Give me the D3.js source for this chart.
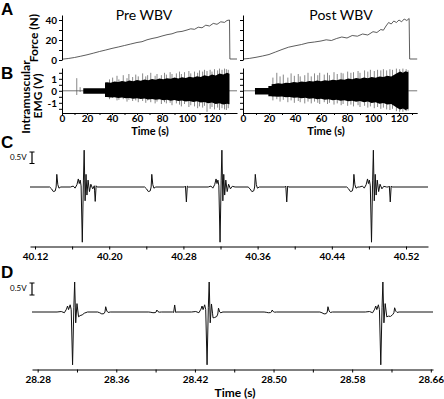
<!DOCTYPE html>
<html>
<head>
<meta charset="utf-8">
<script src="https://cdn.jsdelivr.net/npm/d3@7"></script>
<style>
  body { margin: 0; background: #fff; }
  svg { display: block; }
  .tick text { font-family: Lato, sans-serif; font-weight: bold; fill: #000; }
  .ab .tick text { font-size: 10px; }
  .cd .tick text { font-size: 10px; }
  .domain, .tick line { stroke: #000; stroke-width: 1; }
</style>
</head>
<body>
<script>
// ---- data ----
// A: force ramps (s, N)
var forcePreT = [0,5,10,15,20,25,30,35,40,45,50,55,60,64,68,72,76,80,84,88,92,96,100,103,106,109,112,115,118,121,124,127,130,132,134,134.3,140];
var forcePreN = [0.8,1.5,2.5,3.8,5.2,6.8,8.5,10,11.6,13,14.5,16,17.5,18.3,20.2,21.5,22.5,24,25.3,26.2,28,28.6,30,31.2,30.7,32.8,32.2,34.8,34,36.6,35.7,38.2,37.6,39.5,40,1,1];
var forcePostT = [0,5,10,15,20,25,30,35,40,45,50,55,60,64,68,72,76,80,84,88,92,96,100,103,106,108,110,112,114,116,118,120,122,124,126,127.8,128.2,134];
var forcePostN = [1,1.6,2.7,4,5.5,8,10.5,12.8,14.2,15.5,17.2,18,19,20.2,19.5,21.5,23,22,24.5,23.8,26,25,28.3,27.5,30.5,29.8,34,37.5,36,39,37.5,40,38.2,41,39.5,41.5,1,1];

// B: EMG dense core envelope (s, V)
var emgPreT   = [0,17,17.01,34.4,34.41,36,39,42,45,48,51,54,57,60,63,66,69,72,75,78,81,84,87,90,93,96,99,102,105,108,111,114,117,120,123,126,129,132,134,134.01,140];
var emgPreTop = [0,0,0.22,0.22,0.7,0.72,0.68,0.78,0.74,0.82,0.76,0.86,0.8,0.9,0.84,0.95,0.88,0.98,0.92,1.02,0.96,1.05,1.0,1.1,1.03,1.12,1.06,1.18,1.1,1.22,1.15,1.3,1.22,1.36,1.28,1.45,1.35,1.5,1.42,0,0];
var emgPreBot = [0,0,-0.25,-0.25,-0.52,-0.52,-0.56,-0.53,-0.6,-0.56,-0.63,-0.59,-0.66,-0.62,-0.69,-0.65,-0.72,-0.68,-0.75,-0.7,-0.78,-0.74,-0.82,-0.77,-0.86,-0.8,-0.9,-0.84,-0.94,-0.88,-0.98,-0.93,-1.04,-0.98,-1.1,-1.03,-1.15,-1.08,-1.12,0,0];
var emgPostT   = [0,9.2,9.21,19.5,19.51,22,22.01,24,27,30,33,36,39,42,45,48,51,54,57,60,63,66,69,72,75,78,81,84,87,90,93,96,99,102,105,108,111,114,117,119,121,123,125,127.2,127.21,134];
var emgPostTop = [0,0,0.23,0.23,0.4,0.4,0.55,0.56,0.62,0.58,0.68,0.64,0.74,0.7,0.78,0.74,0.82,0.77,0.86,0.8,0.88,0.84,0.93,0.88,0.97,0.92,1.02,0.96,1.06,1.0,1.1,1.04,1.15,1.08,1.2,1.14,1.26,1.2,1.38,1.5,1.6,1.5,1.62,1.55,0,0];
var emgPostBot = [0,0,-0.3,-0.3,-0.45,-0.45,-0.47,-0.47,-0.5,-0.48,-0.54,-0.51,-0.58,-0.55,-0.62,-0.58,-0.66,-0.62,-0.7,-0.66,-0.75,-0.7,-0.79,-0.74,-0.83,-0.78,-0.87,-0.82,-0.92,-0.86,-0.96,-0.9,-1.02,-0.95,-1.08,-1.02,-1.15,-1.1,-1.3,-1.45,-1.55,-1.48,-1.6,-1.5,0,0];
// B: tallest single spikes [s, top V, bottom V]
var emgPrePeaks = [[11.8,1.05,-0.35],[14.5,0.3,-0.1],[38,0.95,-0.7],[40.5,1.1,-0.6],[44,1.25,-0.8],[45.5,0.95,-0.75],[49,1.3,-0.7],[52,1.05,-0.9],[53.5,1.4,-0.75],[56.5,1.15,-0.85],[59,1.35,-0.8],[61,1.2,-0.95],[64.5,1.45,-0.85],[67,1.2,-1.0],[68.5,1.3,-0.8],[71,1.5,-0.95],[74.5,1.25,-1.05],[76,1.4,-0.9],[79.5,1.3,-1.1],[82,1.5,-0.95],[83.5,1.35,-1.05],[86.5,1.55,-1.0],[88,1.4,-1.2],[91.5,1.45,-1.05],[94,1.6,-1.15],[95.5,1.4,-1.3],[98,1.55,-1.1],[101.5,1.65,-1.35],[103,1.45,-1.2],[106,1.6,-1.3],[108.5,1.5,-1.45],[110,1.7,-1.3],[112.5,1.6,-1.4],[114,1.75,-1.25],[116,1.65,-1.75],[118.5,1.75,-1.5],[120,1.6,-1.35],[122,1.8,-1.55],[124.5,1.7,-1.4],[126,1.85,-1.6],[128,1.75,-1.45],[130,1.85,-1.55],[131.5,1.8,-1.6],[133,1.75,-1.45]];
var emgPostPeaks = [[23,1.1,-0.8],[26,1.5,-0.7],[28.5,1.2,-0.9],[31,1.35,-0.75],[34.5,1.1,-0.95],[37,1.45,-0.8],[39.5,1.25,-1.0],[42.5,1.4,-0.85],[44,1.2,-0.95],[47.5,1.3,-1.05],[50,1.5,-0.9],[52.5,1.2,-1.05],[55,1.45,-0.9],[57.5,1.3,-1.0],[59,1.5,-1.1],[62.5,1.35,-0.95],[65,1.5,-1.1],[66.5,1.3,-1.0],[70,1.55,-1.15],[72.5,1.4,-1.05],[75.5,1.5,-1.2],[77,1.45,-1.1],[80.5,1.6,-1.25],[83,1.5,-1.15],[85,1.55,-1.3],[88.5,1.65,-1.2],[90,1.5,-1.35],[93.5,1.7,-1.25],[96,1.6,-1.4],[98,1.75,-1.3],[101,1.65,-1.45],[103.5,1.75,-1.35],[106,1.7,-1.5],[108,1.8,-1.4],[110.5,1.7,-1.55],[113,1.8,-1.6],[115,1.75,-1.5],[118,1.85,-1.7],[120.5,1.8,-1.75],[123,1.85,-1.75],[125.5,1.8,-1.7],[127,1.7,-1.65]];

// C/D: motor unit waveforms [ms, V]
var unitBigC = [[-14,0],[-11,0.04],[-9,-0.05],[-7,0.1],[-5.5,0.35],[-4.5,0.15],[-3.5,0.3],[-2.5,0.05],[-1.2,-2.4],[0,0.3],[0.8,1.6],[1.8,-0.6],[2.8,0.55],[3.8,-0.35],[5,0.3],[6.5,-0.2],[8,0.12],[10,-0.08],[12,0.03],[15,0]];
var unitBigD = [[-16,0],[-12,0.02],[-9,-0.03],[-7,0.12],[-6,0.25],[-5,0.1],[-3.5,0.3],[-2.5,0.1],[-1.2,-2.2],[0,0.2],[0.8,1.25],[1.8,-0.45],[3,0.35],[4.5,-0.2],[6,-0.15],[8,-0.12],[10,-0.05],[13,0]];
var unitDipUp = [[-8,0],[-6,-0.08],[-4,-0.2],[-2,-0.17],[-1,0],[-0.3,0.55],[0.8,0.1],[2,-0.05],[4,0]];
var unitDown = [[-2,0],[-1,0.04],[0,-0.65],[1,0.04],[2,0]];

// firing times [s, unit, gain]
var eventsC = [[40.1722,"big",1],[40.3207,"big",1],[40.4840,"big",1],
  [40.1438,"dip",1],[40.2462,"dip",1],[40.3578,"dip",1],[40.4641,"dip",1],
  [40.1849,"down",1],[40.2832,"down",1],[40.3914,"down",1],[40.5030,"down",1]];
var eventsD = [[28.3145,"big",1],[28.4428,"big",1],[28.6085,"big",1],
  [28.3452,"dip",0.4],[28.4528,"dip",0.4],[28.5572,"dip",0.4],[28.6208,"dip",0.35],
  [28.3940,"dip",0.15],[28.5040,"dip",0.15],[28.4107,"down",-0.45]];

var forceTicks = [0,10,20,30,40];
var emgTicks = [-1.5,-1,-0.5,0,0.5,1,1.5];
var timeTicks = [0,10,20,30,40,50,60,70,80,90,100,110,120,130];
var cTicks = [40.12,40.16,40.20,40.24,40.28,40.32,40.36,40.40,40.44,40.48,40.52];
var dTicks = [28.28,28.3175,28.355,28.3925,28.43,28.4675,28.505,28.5425,28.58,28.6175,28.655];
var dTickLabels = ["28.28","","28.36","","28.42","","28.50","","28.58","","28.66"];

// ---- drawing ----
var svg = d3.select("body").append("svg").attr("width", 444).attr("height", 399);

var xPre = d3.scaleLinear().domain([0, 140]).range([62, 237]);
var xPost = d3.scaleLinear().domain([0, 134]).range([243, 417.2]);
var yForce = d3.scaleLinear().domain([0, 45]).range([60, 15]);
var yEmg = d3.scaleLinear().domain([-1.85, 1.9]).range([113, 68]);

function zip(a, b) { return a.map(function(v, i) { return [v, b[i]]; }); }

function label(x, y, txt, size, weight, anchor, rot, fam) {
  var t = svg.append("text")
    .attr("x", x).attr("y", y)
    .attr("font-family", fam || "Lato, sans-serif")
    .attr("font-size", size)
    .attr("font-weight", weight)
    .attr("text-anchor", anchor)
    .text(txt);
  if (rot) t.attr("transform", "rotate(-90," + x + "," + y + ")");
  return t;
}

function drawAB(x, force, emgT, emgTop, emgBot, peaks, withLabels) {
  var g = svg.append("g").attr("class", "ab");
  // force
  g.append("path")
    .datum(force)
    .attr("fill", "none").attr("stroke", "#333").attr("stroke-width", 0.8)
    .attr("d", d3.line().x(function(d) { return x(d[0]); }).y(function(d) { return yForce(d[1]); }));
  g.append("g").attr("transform", "translate(" + x.range()[0] + ",0)")
    .call(d3.axisLeft(yForce).tickValues(forceTicks).tickSize(3).tickSizeOuter(0).tickPadding(2)
      .tickFormat(function(d) { return withLabels && d % 20 === 0 ? d : ""; }));

  // emg baseline
  g.append("line")
    .attr("x1", x.range()[0]).attr("x2", x.range()[1])
    .attr("y1", yEmg(0)).attr("y2", yEmg(0))
    .attr("stroke", "#777").attr("stroke-width", 1);
  g.selectAll(".pk").data(peaks).enter().append("line")
    .attr("x1", function(d) { return x(d[0]); }).attr("x2", function(d) { return x(d[0]); })
    .attr("y1", function(d) { return yEmg(d[1]); }).attr("y2", function(d) { return yEmg(d[2]); })
    .attr("stroke", "#555").attr("stroke-width", 0.7);
  var emg = emgT.map(function(t, i) { return [t, emgTop[i], emgBot[i]]; });
  g.append("path")
    .datum(emg)
    .attr("fill", "#000")
    .attr("d", d3.area().x(function(d) { return x(d[0]); })
      .y0(function(d) { return yEmg(d[2]); }).y1(function(d) { return yEmg(d[1]); }));

  g.append("g").attr("transform", "translate(" + x.range()[0] + ",0)")
    .call(d3.axisLeft(yEmg).tickValues(emgTicks).tickSize(3).tickSizeOuter(0).tickPadding(2)
      .tickFormat(function(d) { return withLabels && d % 1 === 0 ? d : ""; }));
  g.append("g").attr("transform", "translate(0," + yEmg.range()[0] + ")")
    .call(d3.axisBottom(x).tickValues(timeTicks).tickSize(2).tickSizeOuter(0).tickPadding(0)
      .tickFormat(function(d) { return d % 20 === 0 ? d : ""; }));
}

drawAB(xPre, zip(forcePreT, forcePreN), emgPreT, emgPreTop, emgPreBot, emgPrePeaks, true);
drawAB(xPost, zip(forcePostT, forcePostN), emgPostT, emgPostTop, emgPostBot, emgPostPeaks, false);

// sum of unit waveforms at all breakpoints
function tplVal(tpl, ms) {
  if (ms <= tpl[0][0] || ms >= tpl[tpl.length - 1][0]) return 0;
  for (var i = 1; i < tpl.length; i++) {
    if (ms <= tpl[i][0]) {
      var a = tpl[i - 1], b = tpl[i];
      return a[1] + (b[1] - a[1]) * (ms - a[0]) / (b[0] - a[0]);
    }
  }
  return 0;
}
function trace(events, units, t0, t1) {
  var ts = [t0, t1];
  events.forEach(function(e) {
    units[e[1]].forEach(function(p) { ts.push(e[0] + p[0] / 1000); });
  });
  ts = ts.filter(function(t) { return t >= t0 && t <= t1; }).sort(d3.ascending);
  return ts.map(function(t) {
    var v = 0;
    events.forEach(function(e) { v += e[2] * tplVal(units[e[1]], (t - e[0]) * 1000); });
    return [t, v];
  });
}

function drawCD(x, y, data, ticks, fmt, axisY) {
  var g = svg.append("g").attr("class", "cd");
  g.append("path")
    .datum(data)
    .attr("fill", "none").attr("stroke", "#111").attr("stroke-width", 1)
    .attr("d", d3.line().x(function(d) { return x(d[0]); }).y(function(d) { return y(d[1]); }));
  g.append("g").attr("transform", "translate(0," + axisY + ")")
    .call(d3.axisBottom(x).tickValues(ticks).tickSize(3).tickSizeOuter(0).tickPadding(3).tickFormat(fmt));
}

function scaleBar(y0, px) {
  svg.append("line").attr("x1", 32).attr("x2", 32).attr("y1", y0).attr("y2", y0 + px).attr("stroke", "#000").attr("stroke-width", 1.2);
  svg.append("line").attr("x1", 29.5).attr("x2", 34.5).attr("y1", y0).attr("y2", y0).attr("stroke", "#000");
  svg.append("line").attr("x1", 29.5).attr("x2", 34.5).attr("y1", y0 + px).attr("y2", y0 + px).attr("stroke", "#000");
}

var xC = d3.scaleLinear().domain([40.1146, 40.5437]).range([30, 428]);
var yC = d3.scaleLinear().domain([-2.5, 2.5]).range([244.5, 129.5]);
var xD = d3.scaleLinear().domain([28.2746, 28.6571]).range([32, 433]);
var yD = d3.scaleLinear().domain([-2.5, 2.5]).range([372, 252]);

var units = { big: unitBigC, dip: unitDipUp, down: unitDown };
drawCD(xC, yC, trace(eventsC, units, xC.domain()[0], xC.domain()[1]), cTicks,
  function(d, i) { return i % 2 === 0 ? d3.format(".2f")(d) : ""; }, 246.5);
scaleBar(152, yC(0) - yC(0.5));
label(10, 160, "0.5V", 8, "normal", "start");

var unitsD = { big: unitBigD, dip: unitDipUp, down: unitDown };
drawCD(xD, yD, trace(eventsD, unitsD, xD.domain()[0], xD.domain()[1]), dTicks,
  function(d, i) { return dTickLabels[i]; }, 369.5);
scaleBar(283, yD(0) - yD(0.5));
label(10, 291, "0.5V", 8, "normal", "start");

// text
label(144, 20, "Pre WBV", 14, "normal", "middle");
label(341, 20, "Post WBV", 14, "normal", "middle");
label(150, 134.5, "Time (s)", 11, "bold", "middle");
label(326, 134.5, "Time (s)", 11, "bold", "middle");
label(235, 397, "Time (s)", 12, "bold", "middle");
label(38, 38, "Force (N)", 12, "bold", "middle", true);
label(30, 97, "Intramuscular", 12, "bold", "middle", true);
label(42, 96, "EMG (V)", 12, "bold", "middle", true);

var fam = "'Liberation Sans', Arial, sans-serif";
label(1, 15, "A", 17, "bold", "start", false, fam);
label(1, 79, "B", 17, "bold", "start", false, fam);
label(1, 148, "C", 17, "bold", "start", false, fam);
label(1, 278, "D", 17, "bold", "start", false, fam);
</script>
</body>
</html>
